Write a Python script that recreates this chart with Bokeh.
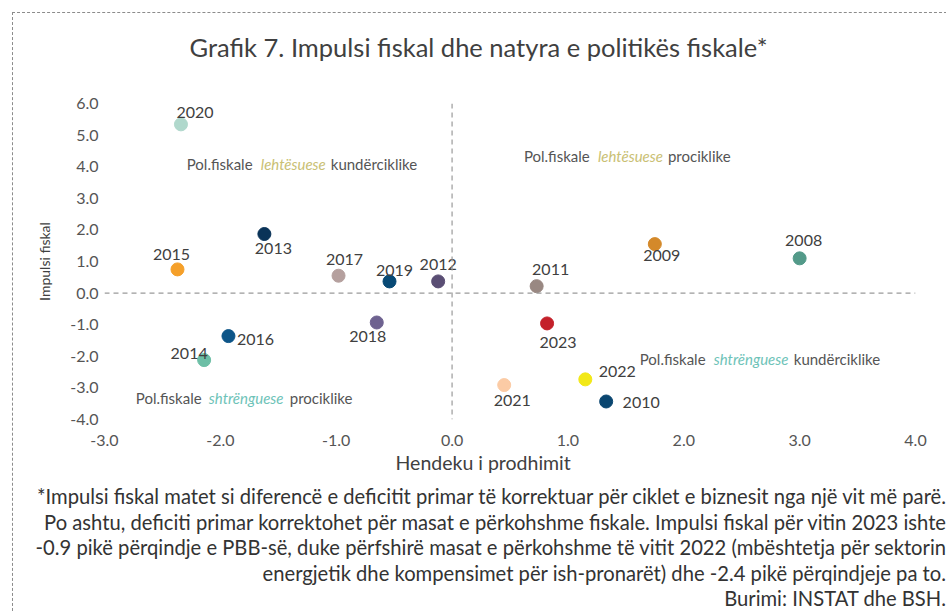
from bokeh.plotting import figure
from bokeh.models import Span, Div, FixedTicker, NumeralTickFormatter, ColumnDataSource, Range1d, Title
from bokeh.layouts import column
from bokeh.core.properties import value
from bokeh.embed import file_html
from bokeh.resources import INLINE

# ---- data ----
years = ["2008", "2009", "2010", "2011", "2012", "2013", "2014", "2015",
         "2016", "2017", "2018", "2019", "2020", "2021", "2022", "2023"]
output_gap = [3.00, 1.75, 1.33, 0.73, -0.12, -1.62, -2.14, -2.37,
              -1.93, -0.98, -0.65, -0.54, -2.34, 0.45, 1.15, 0.82]
fiscal_impulse = [1.10, 1.55, -3.43, 0.22, 0.37, 1.87, -2.12, 0.75,
                  -1.36, 0.55, -0.93, 0.37, 5.34, -2.91, -2.73, -0.96]

x_ticks = [-3, -2, -1, 0, 1, 2, 3, 4]
y_ticks = [-4, -3, -2, -1, 0, 1, 2, 3, 4, 5, 6]

title_text = "Grafik 7. Impulsi fiskal dhe natyra e politikës fiskale*"
x_title = "Hendeku i prodhimit"
y_title = "Impulsi fiskal"
footnote_lines = [
    "*Impulsi fiskal matet si diferencë e deficitit primar të korrektuar për ciklet e biznesit nga një vit më parë.",
    "Po ashtu, deficiti primar korrektohet për masat e përkohshme fiskale. Impulsi fiskal për vitin 2023 ishte",
    "-0.9 pikë përqindje e PBB-së, duke përfshirë masat e përkohshme të vitit 2022 (mbështetja për sektorin",
    "energjetik dhe kompensimet për ish-pronarët) dhe -2.4 pikë përqindjeje pa to.",
    "Burimi: INSTAT dhe BSH.",
]

# ---- styles ----
colors = ["#539A89", "#D4892A", "#0A4670", "#998882", "#5A4E74", "#0A3358", "#6DBFA6", "#F5A02A",
          "#0D5588", "#B5A09E", "#6E6290", "#084A75", "#B0D8CC", "#FBCBA5", "#F2E817", "#C4202A"]
label_dx = [4, 7, 35, 14, 0, 9, -15, -6, 27, 6, -9, 5, 14, 8, 32, 11]
label_dy = [-18, 11, 1, -17, -17, 14, -7, -15, 3, -16, 14, -11, -12, 15, -8, 19]

FONT = "Lato"
TXT = "#404040"
GREY = "#555555"
YELLOW = "#C9C074"
TEAL = "#6EC3B8"

p = figure(width=925, height=465, x_range=Range1d(-3, 4), y_range=Range1d(-4, 6),
           output_backend="svg", toolbar_location=None, title_location=None,
           min_border_left=91, min_border_right=23, min_border_top=0, min_border_bottom=0)
p.outline_line_color = None
p.grid.visible = False
p.background_fill_color = "white"
p.border_fill_color = "white"

for ax in (p.xaxis[0], p.yaxis[0]):
    ax.axis_line_color = None
    ax.major_tick_line_color = None
    ax.minor_tick_line_color = None
    ax.major_tick_out = 0
    ax.major_tick_in = 0
    ax.minor_tick_out = 0
    ax.major_label_text_font = FONT
    ax.major_label_text_font_size = "16px"
    ax.major_label_text_color = "#555555"
    ax.formatter = NumeralTickFormatter(format="0.0")

p.xaxis[0].ticker = FixedTicker(ticks=x_ticks)
p.yaxis[0].ticker = FixedTicker(ticks=y_ticks)
p.xaxis[0].major_label_standoff = 15
p.yaxis[0].major_label_standoff = 6
p.yaxis[0].axis_label = y_title
p.yaxis[0].axis_label_text_font = FONT
p.yaxis[0].axis_label_text_font_size = "14px"
p.yaxis[0].axis_label_text_font_style = "normal"
p.yaxis[0].axis_label_text_color = TXT
p.yaxis[0].axis_label_standoff = 14

# titles: spacer nearest the frame, main title outermost
p.add_layout(Title(text=" ", text_font_size="1px", standoff=19), "above")
p.add_layout(Title(text=title_text, align="left", offset=85, vertical_align="top", standoff=36,
                   text_font=FONT, text_font_size="25.5px", text_font_style="normal",
                   text_color=TXT), "above")
p.add_layout(Title(text=x_title, align="left", offset=291, vertical_align="top", standoff=5,
                   text_font=FONT, text_font_size="19.5px", text_font_style="normal",
                   text_color=TXT), "below")

p.add_layout(Span(location=0, dimension="width", line_color="#9a9a9a", line_dash="5 4", line_width=1.2))
p.add_layout(Span(location=0, dimension="height", line_color="#9a9a9a", line_dash="5 4", line_width=1.2))

src = ColumnDataSource(dict(x=output_gap, y=fiscal_impulse, year=years, color=colors,
                            dx=label_dx, dy=label_dy))
p.scatter("x", "y", source=src, size=13, fill_color="color", line_color="color")
p.text("x", "y", text="year", source=src, x_offset="dx", y_offset="dy",
       text_align="center", text_baseline="middle", text_font=value(FONT),
       text_font_size="16px", text_color=TXT)

# quadrant annotations (three pieces each)
def quad(x, y, words, offs, cols):
    for w, o, c in zip(words, offs, cols):
        p.text(x=[x], y=[y], text=[w], x_offset=o, text_align="left", text_baseline="middle",
               text_font=value(FONT), text_font_size="15px", text_color=c,
               text_font_style="italic" if c in (YELLOW, TEAL) else "normal")

quad(-2.29, 4.08, ["Pol.fiskale", "lehtësuese", "kundërciklike"], [0, 74, 144], [GREY, YELLOW, GREY])
quad(0.62, 4.34, ["Pol.fiskale", "lehtësuese", "prociklike"], [0, 74, 144], [GREY, YELLOW, GREY])
quad(1.62, -2.10, ["Pol.fiskale", "shtrënguese", "kundërciklike"], [0, 74, 154], [GREY, TEAL, GREY])
quad(-2.73, -3.33, ["Pol.fiskale", "shtrënguese", "prociklike"], [0, 73, 154], [GREY, TEAL, GREY])

div = Div(text="<br>".join(footnote_lines), width=929, height=133,
          styles={"text-align": "right", "font-family": FONT, "font-size": "20.2px",
                  "line-height": "25.5px", "color": "#333333", "padding-top": "1px",
                  "padding-right": "1px", "box-sizing": "border-box", "white-space": "nowrap"})

layout = column(p, div, margin=(12, 0, 0, 12),
                styles={"border-top": "1px dashed #8c8c8c", "border-left": "1px dashed #8c8c8c"})

open("out.html", "w").write(file_html(layout, INLINE))
